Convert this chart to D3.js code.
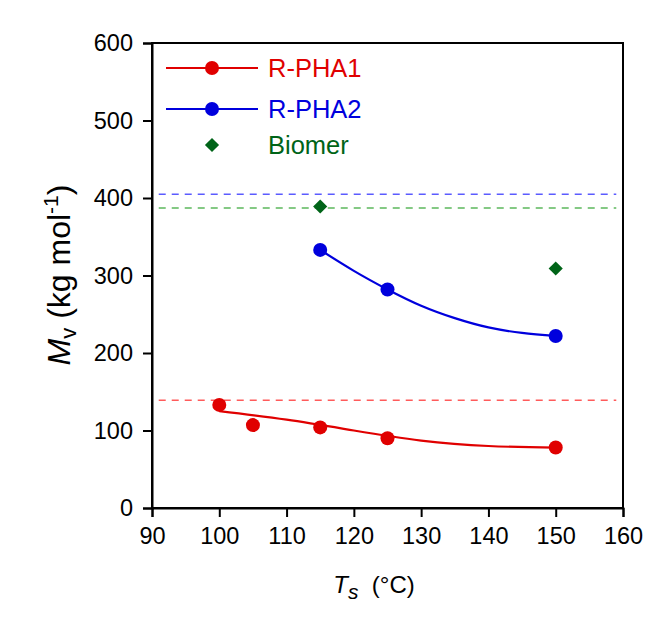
<!DOCTYPE html>
<html>
<head>
<meta charset="utf-8">
<script src="https://cdn.jsdelivr.net/npm/d3@7"></script>
<style>
  body { margin: 0; background: #fff; }
  svg text { font-family: "Liberation Sans", Arial, sans-serif; }
</style>
</head>
<body>
<div id="chart"></div>
<script>
// measured points
var pha1T = [100, 105, 115, 125, 150];
var pha1M = [133, 107, 104, 90, 78];
var pha2T = [115, 125, 150];
var pha2M = [333, 282, 222];
var biomerT = [115, 150];
var biomerM = [389, 309];

// fit curves
var fit1T = [100, 110, 120, 130, 140, 150];
var fit1M = [125, 114, 100, 87, 80, 78];
var fit2T = [115, 120, 125, 130, 135, 140, 145, 150];
var fit2M = [333, 306, 282, 261, 245, 233, 226, 222];

// reference levels (dashed)
var refLevels = [
    { name: "R-PHA2", value: 405, color: "#5b5bff" },
    { name: "Biomer", value: 387, color: "#5cb85c" },
    { name: "R-PHA1", value: 139, color: "#ff5b5b" }
];
var refSpan = [91, 159];

var xTicks = [90, 100, 110, 120, 130, 140, 150, 160];
var yTicks = [0, 100, 200, 300, 400, 500, 600];

var width = 646, height = 619;
var margin = { top: 43, right: 23, bottom: 111, left: 152 };

var red = "#e00000", blue = "#0000dd", green = "#006418";

var svg = d3.select("#chart").append("svg")
    .attr("width", width)
    .attr("height", height);

var x = d3.scaleLinear().domain([90, 160]).range([margin.left, width - margin.right]);
var y = d3.scaleLinear().domain([0, 600]).range([height - margin.bottom, margin.top]);

// frame
svg.append("rect")
    .attr("x", x(90)).attr("y", y(600))
    .attr("width", x(160) - x(90)).attr("height", y(0) - y(600))
    .attr("fill", "none").attr("stroke", "#000").attr("stroke-width", 2);

var xAxis = svg.append("g")
    .attr("transform", `translate(0,${y(0)})`)
    .call(d3.axisBottom(x).tickValues(xTicks).tickSize(9).tickPadding(10).tickFormat(d3.format("d")));
var yAxis = svg.append("g")
    .attr("transform", `translate(${x(90)},0)`)
    .call(d3.axisLeft(y).tickValues(yTicks).tickSize(9).tickPadding(10).tickFormat(d3.format("d")));

[xAxis, yAxis].forEach(g => {
    g.select(".domain").attr("stroke-width", 2);
    g.selectAll(".tick line").attr("stroke-width", 2);
    g.selectAll(".tick text").attr("font-size", 23.5).attr("fill", "#000")
        .style("font-family", "'Liberation Sans', Arial, sans-serif");
});

// dashed reference lines
svg.append("g").selectAll("line")
    .data(refLevels)
    .join("line")
    .attr("x1", x(refSpan[0])).attr("x2", x(refSpan[1]))
    .attr("y1", d => y(d.value)).attr("y2", d => y(d.value))
    .attr("stroke", d => d.color)
    .attr("stroke-width", 1.5)
    .attr("stroke-dasharray", "7,6");

var line = d3.line()
    .x(d => x(d[0]))
    .y(d => y(d[1]))
    .curve(d3.curveNatural);

svg.append("path")
    .datum(d3.zip(fit1T, fit1M))
    .attr("d", line)
    .attr("fill", "none").attr("stroke", red).attr("stroke-width", 2.2);

svg.append("path")
    .datum(d3.zip(fit2T, fit2M))
    .attr("d", line)
    .attr("fill", "none").attr("stroke", blue).attr("stroke-width", 2.2);

svg.append("g").selectAll("circle")
    .data(d3.zip(pha1T, pha1M))
    .join("circle")
    .attr("cx", d => x(d[0])).attr("cy", d => y(d[1]))
    .attr("r", 7).attr("fill", red);

svg.append("g").selectAll("circle")
    .data(d3.zip(pha2T, pha2M))
    .join("circle")
    .attr("cx", d => x(d[0])).attr("cy", d => y(d[1]))
    .attr("r", 7).attr("fill", blue);

var diamond = d3.symbol().type(d3.symbolSquare).size(100);
svg.append("g").selectAll("path")
    .data(d3.zip(biomerT, biomerM))
    .join("path")
    .attr("d", diamond)
    .attr("transform", d => `translate(${x(d[0])},${y(d[1])}) rotate(45)`)
    .attr("fill", green);

// legend
var legendItems = [
    { label: "R-PHA1", color: red, kind: "circle", y: 68 },
    { label: "R-PHA2", color: blue, kind: "circle", y: 109 },
    { label: "Biomer", color: green, kind: "diamond", y: 145 }
];
var leg = svg.append("g");
legendItems.forEach(d => {
    var g = leg.append("g").attr("transform", `translate(0,${d.y})`);
    if (d.kind === "circle") {
        g.append("line").attr("x1", 166).attr("x2", 258)
            .attr("stroke", d.color).attr("stroke-width", 2);
        g.append("circle").attr("cx", 212).attr("r", 7).attr("fill", d.color);
    } else {
        g.append("path").attr("d", diamond)
            .attr("transform", "translate(212,0) rotate(45)")
            .attr("fill", d.color);
    }
    g.append("text").attr("x", 268).attr("dy", "0.35em")
        .attr("font-size", 25.5).attr("fill", d.color)
        .text(d.label);
});

// axis titles
var xt = svg.append("text")
    .attr("x", 374).attr("y", 593)
    .attr("text-anchor", "middle")
    .attr("font-size", 24);
xt.append("tspan").attr("font-style", "italic").text("T");
xt.append("tspan").attr("font-style", "italic").attr("font-size", 21).attr("dy", 6).text("s");
xt.append("tspan").attr("dy", -6).text("\u00a0\u00a0(°C)");

var yt = svg.append("text")
    .attr("transform", "translate(70,275) rotate(-90)")
    .attr("text-anchor", "middle")
    .attr("font-size", 32);
yt.append("tspan").attr("font-style", "italic").text("M");
yt.append("tspan").attr("font-size", 22).attr("dy", 6).text("v");
yt.append("tspan").attr("dy", -6).text(" (kg mol");
yt.append("tspan").attr("font-size", 21).attr("dy", -12).text("-1");
yt.append("tspan").attr("dy", 12).text(")");
</script>
</body>
</html>
